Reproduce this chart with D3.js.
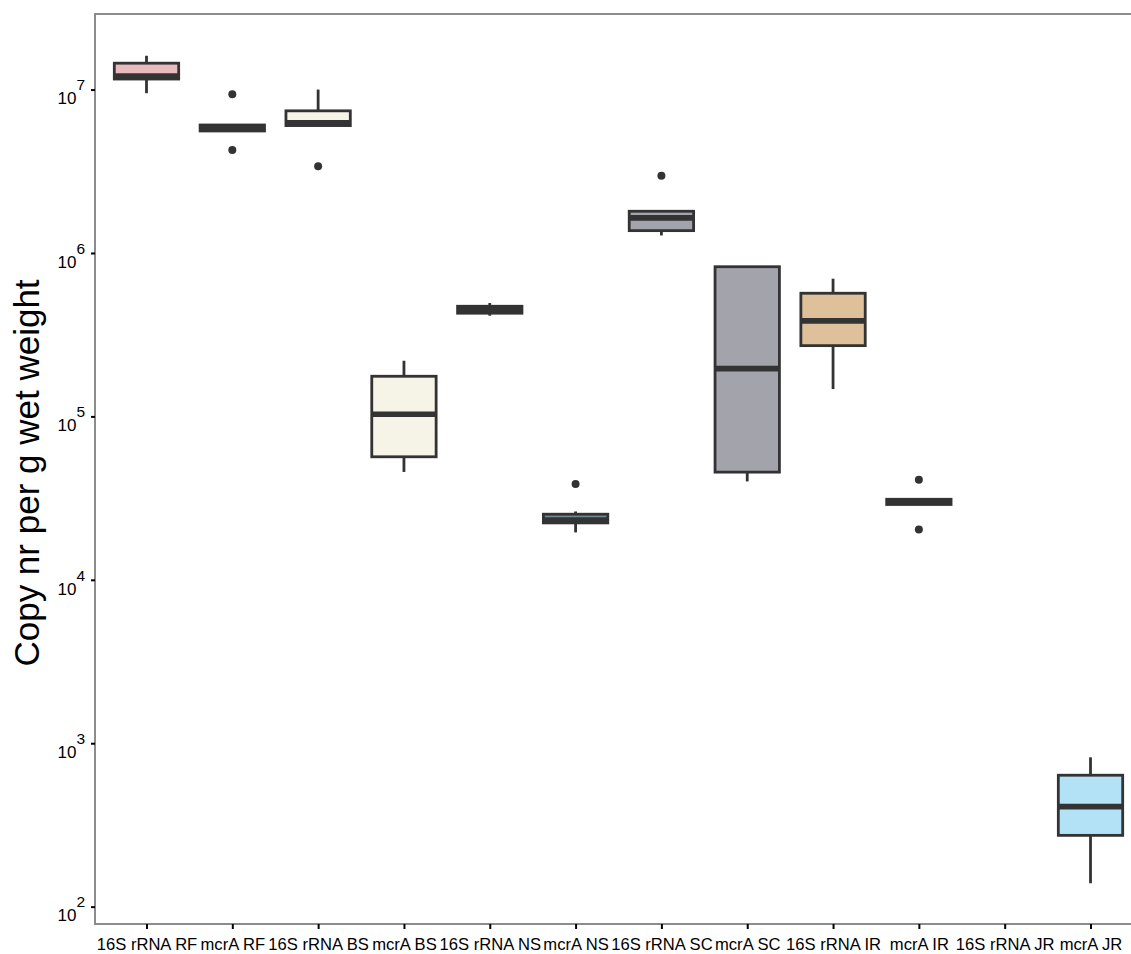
<!DOCTYPE html>
<html>
<head>
<meta charset="utf-8">
<script src="https://cdn.jsdelivr.net/npm/d3@7"></script>
<style>
  body { margin: 0; background: #fff; }
  #chart { width: 1131px; height: 954px; overflow: hidden; }
</style>
</head>
<body>
<div id="chart"></div>
<script>

const categories = ["16S rRNA RF", "mcrA RF", "16S rRNA BS", "mcrA BS", "16S rRNA NS", "mcrA NS",
    "16S rRNA SC", "mcrA SC", "16S rRNA IR", "mcrA IR", "16S rRNA JR", "mcrA JR"];
const sites = ["RF", "RF", "BS", "BS", "NS", "NS", "SC", "SC", "IR", "IR", "JR", "JR"];

// box stats (null = no data)
const whiskerLow  = [9.5e6, 5.58e6, 6.0e6, 4.57e4, 4.13e5, 1.95e4, 1.28e6, 4.0e4, 1.47e5, 2.89e4, null, 139];
const q1          = [1.16e7, 5.58e6, 6.02e6, 5.66e4, 4.28e5, 2.23e4, 1.37e6, 4.56e4, 2.71e5, 2.89e4, null, 273];
const median      = [1.21e7, 5.82e6, 6.27e6, 1.03e5, 4.5e5, 2.32e4, 1.64e6, 1.96e5, 3.84e5, 3.0e4, null, 409];
const q3          = [1.45e7, 6.07e6, 7.41e6, 1.76e5, 4.72e5, 2.52e4, 1.80e6, 8.24e5, 5.67e5, 3.11e4, null, 637];
const whiskerHigh = [1.61e7, 6.07e6, 1.0e7, 2.19e5, 4.94e5, 2.62e4, 1.80e6, 8.24e5, 6.96e5, 3.11e4, null, 820];
const outliers    = [[], [9.36e6, 4.26e6], [3.40e6], [], [], [3.86e4], [2.97e6], [], [], [4.10e4, 2.03e4], [], []];

const yTicks = [1e2, 1e3, 1e4, 1e5, 1e6, 1e7];
const yDomain = [78.3, 2.9e7];
const yTitle = "Copy nr per g wet weight";

const siteColors = {
    RF: "#e8babd",
    BS: "#f6f3e7",
    NS: "#6f8b94",
    SC: "#a3a3ab",
    IR: "#dec09a",
    JR: "#b3e1f6"
};


class boxChart {

    constructor(opts) {
        this.element = opts.element;
        this.update();
    }

    _setDimensions() {
        this.margin = {
            top: 14,
            left: 95,
            bottom: 30
        };
        this.fullWidth = 1131;
        this.fullHeight = 954;
        this.width = 1047; // panel runs past the right edge of the picture
        this.height = this.fullHeight - this.margin.top - this.margin.bottom;
    }

    _setScales() {
        this.xScale = d3.scalePoint()
            .domain(categories)
            .range([0, this.width])
            .padding(0.6);

        this.yScale = d3.scaleLog()
            .domain(yDomain)
            .range([this.height, 0]);

        this.boxWidth = this.xScale.step() * 0.75;

        this.xAxis = d3.axisBottom(this.xScale)
            .tickSize(5)
            .tickSizeOuter(0)
            .tickPadding(9);

        this.yAxis = d3.axisLeft(this.yScale)
            .tickValues(yTicks)
            .tickSize(4)
            .tickSizeOuter(0)
            .tickPadding(6);
    }

    update() {
        this._setDimensions();
        this._setScales();
        this.draw();
    }

    draw() {
        this.element.innerHTML = "";

        this.svg = d3.select(this.element).append("svg")
            .attr("width", this.fullWidth)
            .attr("height", this.fullHeight)
            .style("font-family", "'Liberation Sans', Arial, sans-serif");

        this.plot = this.svg.append("g")
            .attr("transform", `translate(${this.margin.left},${this.margin.top})`);

        // panel border
        this.plot.append("rect")
            .attr("width", this.width)
            .attr("height", this.height)
            .attr("fill", "none")
            .attr("stroke", "#808080")
            .attr("stroke-width", 1.8);

        let boxes = categories.map((c, i) => ({
            cat: c,
            site: sites[i],
            lo: whiskerLow[i],
            q1: q1[i],
            med: median[i],
            q3: q3[i],
            hi: whiskerHigh[i],
            out: outliers[i]
        })).filter(d => d.med != null);

        let g = this.plot.selectAll(".box")
            .data(boxes)
            .enter().append("g")
            .attr("class", "box")
            .attr("transform", d => `translate(${this.xScale(d.cat)},0)`);

        g.append("line")
            .attr("y1", d => this.yScale(d.hi))
            .attr("y2", d => this.yScale(d.lo))
            .attr("stroke", "#333333")
            .attr("stroke-width", 2.8);

        g.append("rect")
            .attr("x", -this.boxWidth / 2)
            .attr("width", this.boxWidth)
            .attr("y", d => this.yScale(d.q3))
            .attr("height", d => Math.max(0, this.yScale(d.q1) - this.yScale(d.q3)))
            .attr("fill", d => siteColors[d.site])
            .attr("stroke", "#333333")
            .attr("stroke-width", 2.8);

        g.append("line")
            .attr("x1", -this.boxWidth / 2)
            .attr("x2", this.boxWidth / 2)
            .attr("y1", d => this.yScale(d.med))
            .attr("y2", d => this.yScale(d.med))
            .attr("stroke", "#333333")
            .attr("stroke-width", 5.6);

        g.selectAll("circle")
            .data(d => d.out)
            .enter().append("circle")
            .attr("cy", d => this.yScale(d))
            .attr("r", 4)
            .attr("fill", "#333333");

        // axes
        let gx = this.plot.append("g")
            .attr("transform", `translate(0,${this.height})`)
            .call(this.xAxis);

        gx.selectAll("text")
            .attr("fill", "#000")
            .attr("font-size", "16.6px")
            .style("font-family", "'Liberation Sans', Arial, sans-serif");

        let gy = this.plot.append("g").call(this.yAxis);

        gy.selectAll("text")
            .attr("fill", "#000")
            .attr("font-size", "17px")
            .attr("dy", "0.84em")
            .style("font-family", "'Liberation Sans', Arial, sans-serif")
            .each(function(d) {
                let t = d3.select(this);
                t.text("");
                t.append("tspan").text("10");
                t.append("tspan")
                    .attr("dy", "-14px")
                    .attr("font-size", "15.5px")
                    .text(Math.round(Math.log10(d)));
            });

        [gx, gy].forEach(a => {
            a.select(".domain").remove();
            a.selectAll(".tick line")
                .attr("stroke", "#000")
                .attr("stroke-width", 2);
        });

        this.svg.append("text")
            .attr("transform", `translate(39,473) rotate(-90)`)
            .attr("text-anchor", "middle")
            .attr("font-size", "35px")
            .attr("fill", "#000")
            .text(yTitle);
    }

}

new boxChart({ element: document.getElementById("chart") });

</script>
</body>
</html>
